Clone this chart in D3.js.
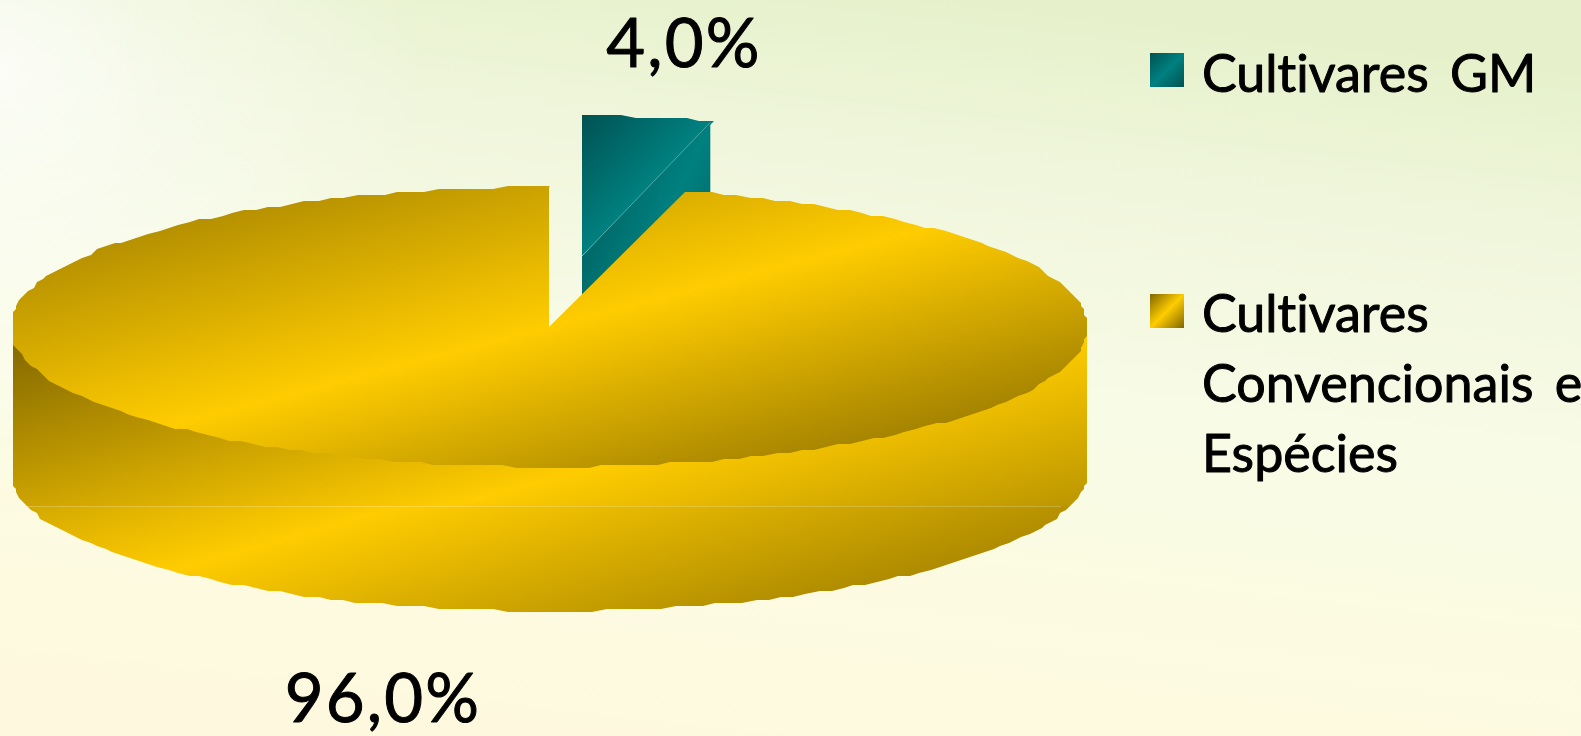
<!DOCTYPE html>
<html lang="pt">
<head>
<meta charset="utf-8">
<title>Cultivares GM e convencionais</title>
<script src="https://cdn.jsdelivr.net/npm/d3@7/dist/d3.min.js"></script>
<style>
  html, body { margin: 0; padding: 0; background: #fbfbe6; overflow: hidden; }
  svg { display: block; }
  text {
    font-family: "Lato", "Open Sans", sans-serif;
    font-variant-ligatures: none;
    font-feature-settings: "liga" 0;
    fill: #000;
    stroke: #000;
    stroke-width: 1;
    stroke-linejoin: round;
  }
</style>
</head>
<body>
<svg id="chart" width="1581" height="736"></svg>
<script>
// Share of cultivated area, in percent
const categories = ["Cultivares GM", "Cultivares Convencionais e Espécies"];
const shares = [4.0, 96.0];
const legendLines = [["Cultivares GM"], ["Cultivares", "Convencionais e", "Espécies"]];
const tealShade = { start: "#005252", mid: "#008080", end: "#005252" };
const goldShade = { start: "#806600", mid: "#FFCC00", end: "#806600" };
const goldTopShade = { start: "#987900", mid: "#FFCC00", end: "#806600" };
const goldWallShade = { start: "#806600", mid: "#FFCC00", end: "#8c7000" };

const width = 1581, height = 736;
const cx = 549, cy = 327;      // centre of the top face
const rx = 540, ry = 140;      // radii of the top face
const halfSpan = 537;          // horizontal limit of the disc
const depth = 144;             // height of the disc wall
const seamY = 506;             // the wall is painted in two bands split here
const grid = 3;                // coarse outline grid of the rim
const arcStep = 1.5 * Math.PI / 180;
const burst = { dx: 33, dy: -71, rx: 528 };   // pulled-out slice

const svg = d3.select("#chart");
const defs = svg.append("defs");

// Page background: pale green at the top fading to cream at the bottom
const bg = defs.append("linearGradient").attr("id", "bg")
  .attr("x1", 0.62).attr("y1", 0).attr("x2", 0.38).attr("y2", 1);
[[0, "#e6f1cb"], [0.22, "#f0f6dc"], [0.5, "#f8fbe6"], [0.75, "#fcfbe2"], [1, "#fef9de"]]
  .forEach(([o, c]) => bg.append("stop").attr("offset", o).attr("stop-color", c));
const glow = defs.append("radialGradient").attr("id", "glow")
  .attr("gradientUnits", "userSpaceOnUse").attr("cx", 0).attr("cy", 70).attr("r", 430);
[[0, "#ffffff", 0.75], [0.35, "#ffffff", 0.4], [1, "#ffffff", 0]]
  .forEach(([o, c, a]) => glow.append("stop").attr("offset", o).attr("stop-color", c).attr("stop-opacity", a));
svg.append("rect").attr("width", width).attr("height", height).attr("fill", "url(#bg)");
svg.append("rect").attr("width", width).attr("height", height).attr("fill", "url(#glow)");

// Diagonal three-stop gradient laid over a box, as on a shaded office chart
function shade(id, colors, box) {
  const g = defs.append("linearGradient").attr("id", id)
    .attr("x1", 0).attr("y1", 0).attr("x2", 1).attr("y2", 1);
  if (box) {
    g.attr("gradientUnits", "userSpaceOnUse")
     .attr("gradientTransform", `translate(${box[0]},${box[1]}) scale(${box[2]},${box[3]})`);
  }
  [[0, colors.start], [0.5, colors.mid], [1, colors.end]]
    .forEach(([o, c]) => g.append("stop").attr("offset", o).attr("stop-color", c));
  return `url(#${id})`;
}

const snap = (v, origin) => origin + Math.round((v - origin) / grid) * grid;

// Rim point of the disc at an angle measured clockwise from twelve o'clock
function rim(a, ox, oy, radiusX) {
  const x = radiusX * Math.sin(a);
  return [
    ox + (x > 0 ? Math.min(halfSpan + 1, x * 0.995) : Math.max(-halfSpan, x)),
    oy - ry * Math.cos(a)
  ];
}

// Sampled arc, snapped to the outline grid with repeated points removed
function arcPoints(a0, a1, ox, oy, radiusX) {
  const steps = Math.max(2, Math.ceil(Math.abs(a1 - a0) / arcStep));
  const pts = d3.range(steps + 1).map(i => {
    const [x, y] = rim(a0 + (a1 - a0) * i / steps, ox, oy, radiusX);
    return [snap(x, ox), snap(y, oy)];
  });
  return pts.filter((p, i) => !i || p[0] !== pts[i - 1][0] || p[1] !== pts[i - 1][1]);
}

const line = d3.line();
const pie = d3.pie().value(d => d).sort(null).startAngle(0).endAngle(2 * Math.PI);
const [gm, conv] = pie(shares);

// Pulled-out slice: wall first, then its top face
const bx = cx + burst.dx, by = cy + burst.dy;
const wallEndX = bx + burst.rx * Math.sin(gm.endAngle) - 3;
const wallEndY = by - ry * Math.cos(gm.endAngle) + 2;
svg.append("path")
  .attr("d", line([[bx, by], [wallEndX, wallEndY], [wallEndX, wallEndY + depth], [bx, by + depth]]) + "Z")
  .attr("fill", shade("gmWall", tealShade, [bx, wallEndY, wallEndX - bx, depth + by - wallEndY]));
svg.append("path")
  .attr("d", line([[bx, by], ...arcPoints(gm.startAngle, gm.endAngle, bx, by, burst.rx)]) + "Z")
  .attr("fill", shade("gmTop", tealShade, [bx, by - ry, burst.rx * Math.sin(gm.endAngle), ry]));
svg.append("line")
  .attr("x1", bx).attr("y1", by).attr("x2", wallEndX).attr("y2", wallEndY)
  .attr("stroke", "#ffffff").attr("stroke-opacity", 0.3);

// Wall of the large slice, in two bands with their own shading.
// Its upper edge runs a little under the top face so no gap opens between them.
const wallOutline = [
  ...arcPoints(1.5 * Math.PI, 0.5 * Math.PI, cx + 1, cy - 6, rx),
  ...arcPoints(0.5 * Math.PI, 1.5 * Math.PI, cx + 1, cy + depth, rx)
];
const bands = [
  { id: "wallUpper", y: 0, h: seamY, box: [cx - halfSpan, 334, 2 * halfSpan, 290] },
  { id: "wallLower", y: seamY, h: height - seamY, box: [cx - halfSpan, 315, 2 * halfSpan, 300] }
];
bands.forEach(b => {
  defs.append("clipPath").attr("id", "clip-" + b.id)
    .append("rect").attr("x", 0).attr("y", b.y).attr("width", width).attr("height", b.h);
  svg.append("path")
    .attr("d", line(wallOutline) + "Z")
    .attr("clip-path", `url(#clip-${b.id})`)
    .attr("fill", shade(b.id, goldWallShade, b.box));
});
svg.append("line")
  .attr("x1", cx - halfSpan + 15).attr("x2", cx + halfSpan - 25)
  .attr("y1", seamY + 0.5).attr("y2", seamY + 0.5)
  .attr("stroke", "#ffffff").attr("stroke-opacity", 0.22);

// Top face of the large slice, with the notch left by the 4% slice
svg.append("path")
  .attr("d", line([[cx, cy], ...arcPoints(conv.startAngle, conv.endAngle, cx + 1, cy, rx), [cx, cy - ry]]) + "Z")
  .attr("fill", shade("convTop", goldTopShade, [cx - halfSpan, cy - ry, 2 * halfSpan, 2 * ry]));

// Value labels, with a decimal comma
const pt = d3.formatLocale({ decimal: ",", thousands: ".", grouping: [3], currency: ["R$", ""] });
const fmt = pt.format(".1f");
const labelPlaces = [{ x: 684, y: 66.5 }, { x: 383, y: 721.5 }];
svg.selectAll("text.value").data(shares).join("text")
  .attr("class", "value")
  .attr("x", (d, i) => labelPlaces[i].x)
  .attr("y", (d, i) => labelPlaces[i].y)
  .attr("text-anchor", "middle")
  .attr("font-size", 67)
  .attr("letter-spacing", 2.2)
  .text(d => fmt(d) + "%");

// Legend
const legendPlaces = [{ key: 53, base: [92] }, { key: 294, base: [332, 402, 472] }];
categories.forEach((name, i) => {
  const g = svg.append("g").attr("class", "legend-item").attr("data-name", name);
  g.append("rect")
    .attr("x", 1150).attr("y", legendPlaces[i].key).attr("width", 34).attr("height", 34)
    .attr("fill", shade("key" + i, i ? goldShade : tealShade));
  legendLines[i].forEach((t, j) => {
    g.append("text")
      .attr("x", 1202).attr("y", legendPlaces[i].base[j])
      .attr("font-size", 52)
      .attr("word-spacing", 8)
      .text(t);
  });
});
</script>
</body>
</html>
